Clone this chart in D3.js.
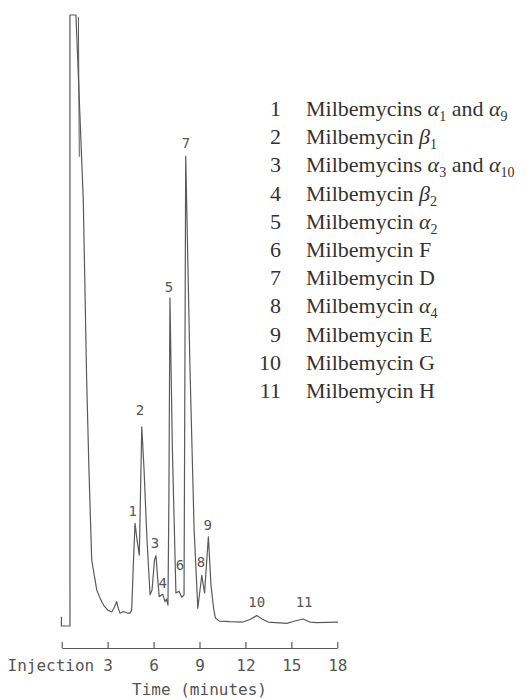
<!DOCTYPE html>
<html>
<head>
<meta charset="utf-8">
<script src="https://cdn.jsdelivr.net/npm/d3@7"></script>
<style>
body { margin: 0; background: #fff; }
</style>
</head>
<body>
<div id="chart"></div>
<script>
// detector trace: retention time (min) and response (% of full scale)
var trace_time = [-0.02, -0.02, 0.54, 0.54, 0.93, 1.41, 1.63, 1.78, 1.96, 2.18, 2.29, 2.50, 2.76, 3.02, 3.27,
    3.45, 3.59, 3.71, 3.81, 3.97, 4.13, 4.30, 4.46, 4.57, 4.69, 4.79, 4.92, 5.07, 5.23, 5.38,
    5.57, 5.77, 5.90, 6.06, 6.16, 6.25, 6.37, 6.60, 6.75, 6.85, 6.94, 7.00, 7.07, 7.23, 7.46,
    7.66, 7.84, 7.99, 8.10, 8.38, 8.65, 8.89, 9.15, 9.33, 9.58, 9.75, 9.92, 10.04, 10.30, 10.99,
    11.84, 12.30, 12.74, 13.09, 13.48, 14.70, 15.24, 15.76, 16.22, 16.66, 18.05]
var trace_resp = [1.5, 0, 0, 100, 100, 69.7, 40.3, 25.5, 10.8, 7.5, 5.9, 4.6, 3.3, 2.6, 2.3,
    3.1, 4.0, 2.8, 2.1, 2.3, 2.3, 2.1, 2.1, 2.6, 10.8, 16.8, 14.1, 11.6, 32.6, 25.5,
    14.1, 5.1, 5.9, 10.8, 11.5, 8.3, 4.8, 5.2, 4.0, 4.4, 3.4, 20.6, 53.7, 28.8, 5.4,
    5.7, 4.7, 5.1, 76.9, 41.9, 15.7, 2.9, 8.3, 5.4, 14.6, 6.7, 2.9, 1.3, 0.8, 0.7,
    0.65, 1.06, 1.7, 1.15, 0.65, 0.44, 0.82, 1.15, 0.65, 0.54, 0.65]

// second pen stroke inside the solvent front
var retrace_time = [1.09, 1.15]
var retrace_resp = [99.7, 76.8]

// peak numbers and where they are written
var peak_ids = ['1', '2', '3', '4', '5', '6', '7', '8', '9', '10', '11']
var peak_label_time = [4.64, 5.11, 6.09, 6.60, 7.01, 7.73, 8.12, 9.10, 9.54, 12.74, 15.83]
var peak_label_resp = [18.8, 35.4, 13.6, 7.0, 55.5, 10.0, 79.1, 10.5, 16.5, 4.0, 3.9]

var legend_names = [
    'Milbemycins α1 and α9',
    'Milbemycin β1',
    'Milbemycins α3 and α10',
    'Milbemycin β2',
    'Milbemycin α2',
    'Milbemycin F',
    'Milbemycin D',
    'Milbemycin α4',
    'Milbemycin E',
    'Milbemycin G',
    'Milbemycin H'
]

var tick_values = [0, 3, 6, 9, 12, 15, 18]
var tick_labels = ['Injection', '3', '6', '9', '12', '15', '18']

var ink = '#5a5a5a'

function initialize() {
    var svg = d3.select('#chart')
        .append('svg')
        .attr('width', 532)
        .attr('height', 700)

    var x = d3.scaleLinear().domain([0, 18]).range([61.7, 337.3])
    var y = d3.scaleLinear().domain([0, 100]).range([626, 15])

    var line = d3.line()
        .x(function(d) { return x(d[0]) })
        .y(function(d) { return y(d[1]) })

    var trace = d3.zip(trace_time, trace_resp)
    svg.append('path')
        .attr('d', line(trace))
        .attr('fill', 'none')
        .attr('stroke', ink)
        .attr('stroke-width', 1.2)
        .attr('stroke-linejoin', 'round')

    svg.append('path')
        .attr('d', line(d3.zip(retrace_time, retrace_resp)))
        .attr('fill', 'none')
        .attr('stroke', ink)
        .attr('stroke-width', 1)

    // peak numbers
    svg.append('g')
        .selectAll('text')
        .data(peak_ids)
        .join('text')
        .attr('x', function(d, i) { return x(peak_label_time[i]) })
        .attr('y', function(d, i) { return y(peak_label_resp[i]) })
        .attr('dy', '0.36em')
        .attr('text-anchor', 'middle')
        .attr('font-family', 'DejaVu Sans Mono')
        .attr('font-size', 14)
        .attr('fill', '#555')
        .text(function(d) { return d })

    // time axis, ticks pointing up
    var axis = d3.axisBottom(x)
        .tickValues(tick_values)
        .tickFormat(function(d, i) { return tick_labels[i] })
        .tickSizeInner(-6)
        .tickSizeOuter(0)
        .tickPadding(12)

    var g_axis = svg.append('g')
        .attr('transform', 'translate(0,648)')
        .call(axis)
    g_axis.select('.domain').attr('stroke', ink).attr('stroke-width', 1.2)
    g_axis.selectAll('.tick line').attr('stroke', ink).attr('stroke-width', 1.2)
    g_axis.selectAll('.tick text')
        .attr('font-family', 'DejaVu Sans Mono')
        .attr('font-size', 16)
        .attr('fill', '#555')
    // "Injection" sits left of the origin, before the 3
    g_axis.selectAll('.tick text')
        .filter(function(d) { return d === 0 })
        .attr('text-anchor', 'end')
        .attr('x', 32)

    svg.append('text')
        .attr('x', x(9))
        .attr('y', 695)
        .attr('text-anchor', 'middle')
        .attr('font-family', 'DejaVu Sans Mono')
        .attr('font-size', 16)
        .attr('fill', '#555')
        .text('Time (minutes)')

    // compound key
    var legend = svg.append('g')
        .attr('font-family', 'Liberation Serif')
        .attr('font-size', 22)
        .attr('fill', '#333')

    legend_names.forEach(function(name, i) {
        var by = 116 + i * 28.2
        legend.append('text')
            .attr('x', 281)
            .attr('y', by)
            .attr('text-anchor', 'end')
            .text(peak_ids[i])

        var t = legend.append('text')
            .attr('x', 306)
            .attr('y', by)
        var shift = 0
        name.split(/([αβ]\d+)/).forEach(function(p) {
            if (p === '') return
            var m = p.match(/^([αβ])(\d+)$/)
            if (m) {
                t.append('tspan').attr('font-style', 'italic').attr('dy', shift).text(m[1])
                t.append('tspan').attr('font-size', 14).attr('dy', 5).text(m[2])
                shift = -5
            } else {
                t.append('tspan').attr('dy', shift).text(p)
                shift = 0
            }
        })
    })
}

initialize()
</script>
</body>
</html>
